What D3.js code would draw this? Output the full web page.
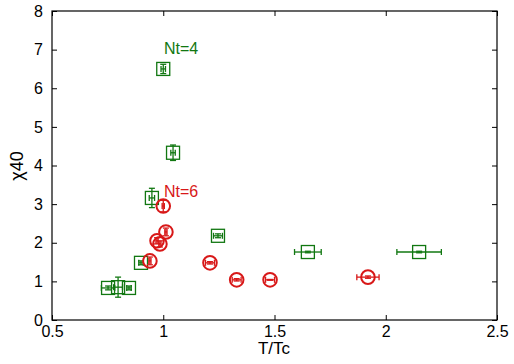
<!DOCTYPE html>
<html>
<head>
<meta charset="utf-8">
<script src="https://cdn.jsdelivr.net/npm/d3@7"></script>
<style>
  body { margin: 0; background: #fff; }
  text { font-family: "Liberation Sans", Arial, sans-serif; }
</style>
</head>
<body>
<svg id="chart" width="514" height="364"></svg>
<script>
// Nt=4 data (green squares)
var nt4T    = [1.0, 1.044, 0.949, 1.246, 0.90, 0.752, 0.797, 0.846, 1.65, 2.15];
var nt4Chi  = [6.5, 4.33, 3.16, 2.18, 1.48, 0.83, 0.85, 0.83, 1.76, 1.76];
var nt4TErr = [0.01, 0.01, 0.012, 0.02, 0.01, 0.03, 0.02, 0.01, 0.06, 0.1];
var nt4Err  = [0.12, 0.2, 0.25, 0.05, 0.05, 0.05, 0.26, 0.05, 0.02, 0.02];

// Nt=6 data (red circles)
var nt6T    = [1.0, 1.012, 0.972, 0.985, 0.94, 1.21, 1.33, 1.48, 1.92];
var nt6Chi  = [2.95, 2.28, 2.05, 1.97, 1.53, 1.48, 1.04, 1.04, 1.11];
var nt6TErr = [0.005, 0.005, 0.005, 0.005, 0.005, 0.02, 0.02, 0.02, 0.05];
var nt6Err  = [0.15, 0.1, 0.08, 0.08, 0.1, 0.03, 0.03, 0.01, 0.03];

var xTicks = [0.5, 1, 1.5, 2, 2.5];
var yTicks = [0, 1, 2, 3, 4, 5, 6, 7, 8];

var green = "#117711", red = "#d81818";

var svg = d3.select("svg#chart");

var x = d3.scaleLinear().domain([0.5, 2.5]).range([52, 497]);
var y = d3.scaleLinear().domain([0, 8]).range([320, 11]);

//Frame
svg.append("rect")
    .attr("x", 52).attr("y", 11)
    .attr("width", 445).attr("height", 309)
    .attr("fill", "none").attr("stroke", "#000").attr("stroke-width", 1.2);

//Axes with inward ticks, bottom/left labelled, top/right bare
function styleAxis(g) {
  g.select(".domain").remove();
  g.selectAll("text").attr("font-size", 16).attr("fill", "#000");
  g.selectAll("line").attr("stroke", "#000");
}
svg.append("g").attr("transform", "translate(0,320)")
    .call(d3.axisBottom(x).tickValues(xTicks).tickFormat(d3.format("")).tickSize(-5).tickPadding(6))
    .call(styleAxis);
svg.append("g").attr("transform", "translate(0,11)")
    .call(d3.axisTop(x).tickValues(xTicks).tickFormat("").tickSize(-5))
    .call(styleAxis);
svg.append("g").attr("transform", "translate(52,0)")
    .call(d3.axisLeft(y).tickValues(yTicks).tickSize(-5).tickPadding(9))
    .call(styleAxis);
svg.append("g").attr("transform", "translate(497,0)")
    .call(d3.axisRight(y).tickValues(yTicks).tickFormat("").tickSize(-5))
    .call(styleAxis);

//Axis titles
svg.append("text")
    .attr("x", 274).attr("y", 354)
    .attr("text-anchor", "middle").attr("font-size", 17)
    .text("T/Tc");
svg.append("text")
    .attr("transform", "translate(23,166) rotate(-90)")
    .attr("text-anchor", "middle").attr("font-size", 18)
    .text("χ40");

//Draws error bars plus marker for one series
function drawSeries(T, V, TE, VE, color, shape) {
  var pts = T.map(function (t, i) { return { t: t, v: V[i], te: TE[i], ve: VE[i] }; });
  var g = svg.append("g").attr("stroke", color).attr("fill", "none").attr("stroke-width", 1.3);
  var node = g.selectAll("g").data(pts).enter().append("g");
  //horizontal error bar
  node.append("line")
      .attr("x1", function (d) { return x(d.t - d.te); })
      .attr("x2", function (d) { return x(d.t + d.te); })
      .attr("y1", function (d) { return y(d.v); })
      .attr("y2", function (d) { return y(d.v); });
  node.append("line")
      .attr("x1", function (d) { return x(d.t - d.te); })
      .attr("x2", function (d) { return x(d.t - d.te); })
      .attr("y1", function (d) { return y(d.v) - 3; })
      .attr("y2", function (d) { return y(d.v) + 3; });
  node.append("line")
      .attr("x1", function (d) { return x(d.t + d.te); })
      .attr("x2", function (d) { return x(d.t + d.te); })
      .attr("y1", function (d) { return y(d.v) - 3; })
      .attr("y2", function (d) { return y(d.v) + 3; });
  //vertical error bar
  node.append("line")
      .attr("x1", function (d) { return x(d.t); })
      .attr("x2", function (d) { return x(d.t); })
      .attr("y1", function (d) { return y(d.v - d.ve); })
      .attr("y2", function (d) { return y(d.v + d.ve); });
  node.append("line")
      .attr("x1", function (d) { return x(d.t) - 3; })
      .attr("x2", function (d) { return x(d.t) + 3; })
      .attr("y1", function (d) { return y(d.v + d.ve); })
      .attr("y2", function (d) { return y(d.v + d.ve); });
  node.append("line")
      .attr("x1", function (d) { return x(d.t) - 3; })
      .attr("x2", function (d) { return x(d.t) + 3; })
      .attr("y1", function (d) { return y(d.v - d.ve); })
      .attr("y2", function (d) { return y(d.v - d.ve); });
  if (shape == "square") {
    node.append("rect")
        .attr("x", function (d) { return x(d.t) - 6.5; })
        .attr("y", function (d) { return y(d.v) - 6.5; })
        .attr("width", 13).attr("height", 13);
  } else {
    node.append("circle")
        .attr("cx", function (d) { return x(d.t); })
        .attr("cy", function (d) { return y(d.v); })
        .attr("r", 6.8).attr("stroke-width", 2);
  }
}

drawSeries(nt4T, nt4Chi, nt4TErr, nt4Err, green, "square");
drawSeries(nt6T, nt6Chi, nt6TErr, nt6Err, red, "circle");

//Series labels
svg.append("text").attr("x", 164).attr("y", 54)
    .attr("font-size", 16).attr("fill", green).text("Nt=4");
svg.append("text").attr("x", 164).attr("y", 197)
    .attr("font-size", 16).attr("fill", red).text("Nt=6");
</script>
</body>
</html>
